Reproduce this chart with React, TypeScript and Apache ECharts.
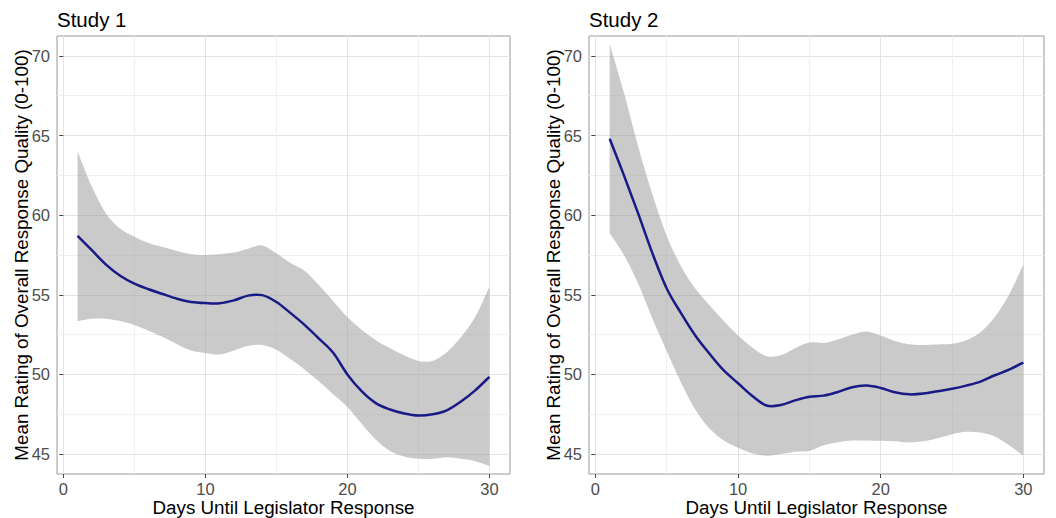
import React, { useEffect, useRef } from "react";
import * as echarts from "echarts";

const days = [1, 2, 3, 4, 5, 6, 7, 8, 9, 10, 11, 12, 13, 14, 15, 16, 17, 18, 19, 20, 21, 22, 23, 24, 25, 26, 27, 28, 29, 30];

const study1Fit = [58.7, 57.8, 56.9, 56.2, 55.7, 55.35, 55.05, 54.75, 54.55, 54.48, 54.47, 54.65, 54.95, 54.98, 54.55, 53.85, 53.1, 52.25, 51.36, 50.0, 48.95, 48.2, 47.8, 47.55, 47.42, 47.5, 47.75, 48.3, 49.0, 49.85];
const study1Upper = [64.0, 61.8, 60.1, 59.15, 58.65, 58.25, 58.0, 57.75, 57.55, 57.5, 57.55, 57.65, 57.9, 58.1, 57.6, 57.0, 56.5, 55.6, 54.6, 53.6, 52.8, 52.15, 51.65, 51.2, 50.85, 50.85, 51.4, 52.35, 53.6, 55.5];
const study1Lower = [53.35, 53.5, 53.5, 53.35, 53.1, 52.75, 52.35, 51.9, 51.5, 51.35, 51.25, 51.5, 51.8, 51.85, 51.55, 50.95, 50.3, 49.55, 48.75, 47.95, 46.9, 45.9, 45.2, 44.85, 44.7, 44.7, 44.8, 44.7, 44.55, 44.25];

const study2Fit = [64.8, 62.5, 60.1, 57.6, 55.4, 53.85, 52.45, 51.3, 50.25, 49.45, 48.65, 48.05, 48.08, 48.37, 48.6, 48.67, 48.9, 49.2, 49.3, 49.15, 48.88, 48.75, 48.8, 48.95, 49.1, 49.3, 49.55, 49.95, 50.3, 50.75];
const study2Upper = [70.75, 67.7, 64.3, 61.3, 58.7, 56.8, 55.4, 54.35, 53.35, 52.45, 51.7, 51.15, 51.2, 51.65, 52.0, 51.98, 52.2, 52.5, 52.7, 52.45, 52.1, 51.9, 51.85, 51.88, 51.92, 52.15, 52.65, 53.6, 55.0, 56.9];
const study2Lower = [58.86, 57.5, 55.7, 53.5, 51.45, 49.5, 47.8, 46.6, 45.85, 45.4, 45.05, 44.9, 45.0, 45.15, 45.2, 45.55, 45.75, 45.85, 45.85, 45.83, 45.8, 45.73, 45.8, 46.0, 46.25, 46.4, 46.35, 46.1, 45.55, 44.9];

const panelTitles = ["Study 1", "Study 2"];
const xTitle = "Days Until Legislator Response";
const yTitle = "Mean Rating of Overall Response Quality (0-100)";
const xMajorTicks = [0, 10, 20, 30];
const xMinorTicks = [5, 15, 25];
const yMajorTicks = [45, 50, 55, 60, 65, 70];
const yMinorTicks = [47.5, 52.5, 57.5, 62.5, 67.5];

const FONT = "Liberation Sans, Arial, Helvetica, sans-serif";

// Catmull-Rom spline through pixel points -> cubic bezier path segments
function splineSegments(pts: number[][]): string {
  let d = "";
  for (let i = 0; i < pts.length - 1; i++) {
    const p0 = pts[i - 1] || pts[i];
    const p1 = pts[i];
    const p2 = pts[i + 1];
    const p3 = pts[i + 2] || p2;
    const c1x = p1[0] + (p2[0] - p0[0]) / 6;
    const c1y = p1[1] + (p2[1] - p0[1]) / 6;
    const c2x = p2[0] - (p3[0] - p1[0]) / 6;
    const c2y = p2[1] - (p3[1] - p1[1]) / 6;
    d += ` C ${c1x} ${c1y} ${c2x} ${c2y} ${p2[0]} ${p2[1]}`;
  }
  return d;
}

export default function App() {
  const ref = useRef<HTMLDivElement | null>(null);

  useEffect(() => {
    if (!ref.current) return;
    const chart = echarts.init(ref.current, undefined, { renderer: "svg" });

    const panels = [
      { fit: study1Fit, upper: study1Upper, lower: study1Lower, left: 57, width: 453 },
      { fit: study2Fit, upper: study2Upper, lower: study2Lower, left: 589, width: 455 },
    ];
    const top = 36;
    const height = 438;
    const xMin = -0.45, xMax = 31.45, yMin = 43.75, yMax = 71.25;

    const grids: any[] = [];
    const xAxes: any[] = [];
    const yAxes: any[] = [];
    const series: any[] = [];
    const graphics: any[] = [];

    const labelStyle = { color: "#4d4d4d", fontSize: 16.5, fontFamily: FONT };

    panels.forEach((p, i) => {
      grids.push({
        left: p.left, top, width: p.width, height,
        show: true, borderColor: "#999999", borderWidth: 1, backgroundColor: "transparent",
      });
      xAxes.push({
        gridIndex: i, type: "value", min: xMin, max: xMax, position: "bottom",
        axisLine: { show: false },
        axisTick: { show: true, length: 4, lineStyle: { color: "#444", width: 1 }, customValues: xMajorTicks },
        axisLabel: { show: true, customValues: xMajorTicks, margin: 6, ...labelStyle },
        splitLine: { show: true, lineStyle: { color: "#e4e4e4", width: 1 } },
      });
      xAxes.push({
        gridIndex: i, type: "value", min: xMin, max: xMax, position: "top",
        axisLine: { show: false },
        axisTick: { show: false, customValues: xMinorTicks },
        axisLabel: { show: false, customValues: xMinorTicks },
        splitLine: { show: true, lineStyle: { color: "#f0f0f0", width: 1 } },
      });
      yAxes.push({
        gridIndex: i, type: "value", min: yMin, max: yMax, position: "left",
        axisLine: { show: false },
        axisTick: { show: true, length: 4, lineStyle: { color: "#444", width: 1 }, customValues: yMajorTicks },
        axisLabel: { show: true, customValues: yMajorTicks, margin: 7, ...labelStyle },
        splitLine: { show: true, lineStyle: { color: "#e4e4e4", width: 1 } },
      });
      yAxes.push({
        gridIndex: i, type: "value", min: yMin, max: yMax, position: "right",
        axisLine: { show: false },
        axisTick: { show: false, customValues: yMinorTicks },
        axisLabel: { show: false, customValues: yMinorTicks },
        splitLine: { show: true, lineStyle: { color: "#f0f0f0", width: 1 } },
      });

      const xi = i * 2;
      const yi = i * 2;
      const upper = p.upper;
      const lower = p.lower;
      const fit = p.fit;
      series.push({
        type: "custom",
        coordinateSystem: "cartesian2d",
        xAxisIndex: xi, yAxisIndex: yi,
        data: days.map((d, k) => [d, lower[k], upper[k]]),
        encode: { x: 0, y: [1, 2] },
        silent: true,
        z: 2,
        renderItem: (params: any, api: any) => {
          if (params.dataIndex !== 0) return null;
          const up = days.map((d, k) => api.coord([d, upper[k]]));
          const lo = days.map((d, k) => api.coord([d, lower[k]])).reverse();
          let d = `M ${up[0][0]} ${up[0][1]}` + splineSegments(up);
          d += ` L ${lo[0][0]} ${lo[0][1]}` + splineSegments(lo) + " Z";
          return {
            type: "path",
            shape: { pathData: d },
            style: { fill: "rgba(150,150,150,0.5)", stroke: "none" },
          };
        },
      });
      series.push({
        type: "custom",
        coordinateSystem: "cartesian2d",
        xAxisIndex: xi, yAxisIndex: yi,
        data: days.map((d, k) => [d, fit[k]]),
        encode: { x: 0, y: 1 },
        silent: true,
        z: 3,
        renderItem: (params: any, api: any) => {
          if (params.dataIndex !== 0) return null;
          const pts = days.map((d, k) => api.coord([d, fit[k]]));
          const d = `M ${pts[0][0]} ${pts[0][1]}` + splineSegments(pts);
          return {
            type: "path",
            shape: { pathData: d },
            style: { fill: "none", stroke: "#1a1a86", lineWidth: 2.5 },
          };
        },
      });

      graphics.push({
        type: "text", left: p.left, top: 9,
        style: { text: panelTitles[i], fontSize: 20.5, fontFamily: FONT, fill: "#000" },
      });
      graphics.push({
        type: "text", x: p.left + p.width / 2, y: 507,
        style: { text: xTitle, fontSize: 18.8, fontFamily: FONT, fill: "#000", textAlign: "center", textVerticalAlign: "middle" },
      });
      graphics.push({
        type: "text", x: p.left - 36, y: 255, rotation: Math.PI / 2,
        style: { text: yTitle, fontSize: 18.8, fontFamily: FONT, fill: "#000", textAlign: "center", textVerticalAlign: "middle" },
      });
    });

    chart.setOption({
      animation: false,
      backgroundColor: "#ffffff",
      textStyle: { fontFamily: FONT },
      grid: grids,
      xAxis: xAxes,
      yAxis: yAxes,
      series,
      graphic: graphics,
    });

    return () => chart.dispose();
  }, []);

  return (
    <div
      ref={ref}
      style={{ position: "fixed", left: 0, top: 0, width: 1056, height: 518 }}
    />
  );
}
